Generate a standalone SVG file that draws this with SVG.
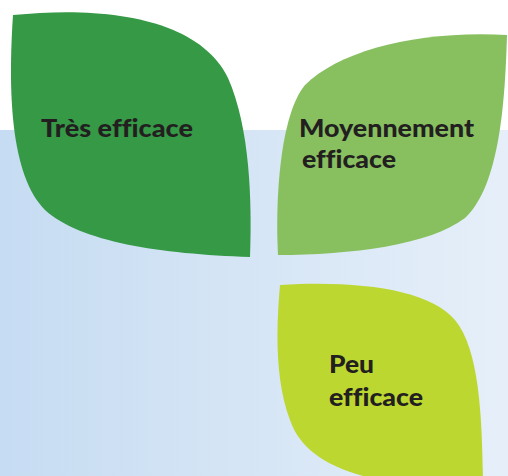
<svg xmlns="http://www.w3.org/2000/svg" width="508" height="476" viewBox="0 0 508 476">
<defs>
<linearGradient id="bg" x1="0" y1="0" x2="1" y2="0">
<stop offset="0" stop-color="#c6dcf2"/>
<stop offset="1" stop-color="#e6eff9"/>
</linearGradient>
<style>
.lbl{font-family:Lato,"Open Sans","Liberation Sans",sans-serif;font-weight:900;font-size:24px;fill:#231f20;font-variant-ligatures:none;font-feature-settings:"liga" 0;}
</style>
</defs>
<rect x="0" y="0" width="508" height="476" fill="#ffffff"/>
<rect x="0" y="130" width="508" height="346" fill="url(#bg)"/>
<g id="connectors"/>
<g id="node-tres">
<path d="M13,15 C110,5 200,20 228,78 C250,128 252,200 250,257 C160,254 80,242 45,210 C10,175 8,90 13,15 Z" fill="#359946"/>
<text class="lbl" x="41" y="137" textLength="152" lengthAdjust="spacingAndGlyphs">Très efficace</text>
</g>
<g id="node-moyen">
<path d="M507,35 C420,30 340,50 305,85 C280,115 275,200 278,255 C350,255 430,245 465,218 C500,185 505,100 507,35 Z" fill="#88c060"/>
<text class="lbl" x="299" y="137" textLength="175" lengthAdjust="spacingAndGlyphs">Moyennement</text>
<text class="lbl" x="302" y="168" textLength="94" lengthAdjust="spacingAndGlyphs">efficace</text>
</g>
<g id="node-peu">
<path d="M280,285 C360,280 430,290 455,320 C480,350 482,420 483,480 L380,480 C330,470 300,450 290,420 C275,380 276,330 280,285 Z" fill="#bdd731"/>
<text class="lbl" x="329" y="373" textLength="45" lengthAdjust="spacingAndGlyphs">Peu</text>
<text class="lbl" x="329" y="406" textLength="94" lengthAdjust="spacingAndGlyphs">efficace</text>
</g>
</svg>
